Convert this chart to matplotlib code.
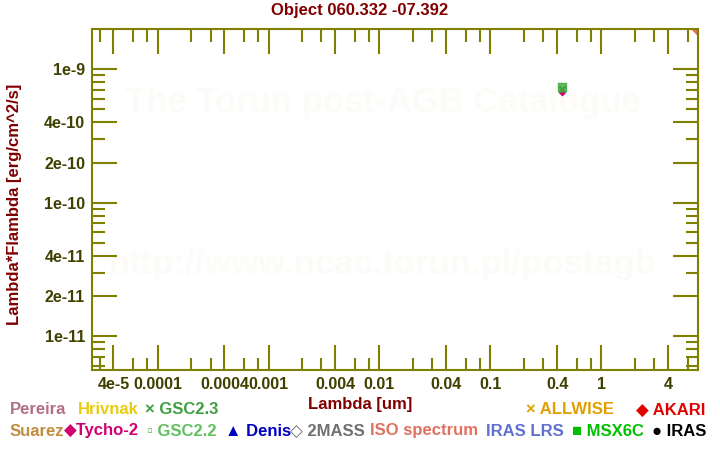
import matplotlib
matplotlib.use("Agg")
import numpy as np
from matplotlib import pyplot as plt
from matplotlib.ticker import FixedLocator, NullFormatter

plt.rcParams["font.family"] = ["Liberation Sans", "DejaVu Sans"]
plt.rcParams["font.weight"] = "bold"

# photometry points (um, erg/cm^2/s)
gsc22_wave = [0.44]
gsc22_flux = [7.3e-10]
gsc23_wave = [0.44]
gsc23_flux = [7.1e-10]
tycho_wave = [0.445]
tycho_flux = [6.8e-10]
iso_wave = [7.5]
iso_flux = [2.0e-9]

x_major = [4e-5, 1e-4, 4e-4, 1e-3, 4e-3, 1e-2, 4e-2, 0.1, 0.4, 1, 4]
x_labels = ["4e-5", "0.0001", "0.0004", "0.001", "0.004", "0.01", "0.04", "0.1", "0.4", "1", "4"]
y_major = [1e-9, 4e-10, 2e-10, 1e-10, 4e-11, 2e-11, 1e-11]
y_labels = ["1e-9", "4e-10", "2e-10", "1e-10", "4e-11", "2e-11", "1e-11"]

# legend rows: (label, colour, x start px)
legend_row1 = [("Pereira", "#b07088", 10), ("Hrivnak", "#e8cc10", 78),
               ("× GSC2.3", "#40a040", 145), ("× ALLWISE", "#e0a000", 526),
               ("◆ AKARI", "#e00000", 636)]
legend_row2 = [("Suarez", "#c08c40", 10), ("◆Tycho-2", "#d00070", 64),
               ("▫ GSC2.2", "#60c060", 147), ("▲ Denis", "#0000c0", 225),
               ("◇ 2MASS", "#707070", 290), ("ISO spectrum", "#e07060", 370),
               ("IRAS LRS", "#6070d0", 486), ("■ MSX6C", "#00c000", 572),
               ("● IRAS", "#000000", 652)]

olive = "#808000"
tick_text = "#404000"
dark_red = "#800000"

fig = plt.figure(figsize=(7.2, 4.5), dpi=100)
ax = fig.add_axes([92 / 720, 80 / 450, 606 / 720, 341 / 450])
ax.set_xscale("log")
ax.set_yscale("log")
ax.set_xlim(2.56e-5, 7.45)
ax.set_ylim(5.6e-12, 2.0e-9)

x_minor = []
for e in range(-5, 1):
    for m in [2, 3, 6, 8]:
        x_minor.append(m * 10.0 ** e)
y_minor = []
for e in range(-12, -8):
    for m in [3, 5, 6, 7, 8, 9]:
        y_minor.append(m * 10.0 ** e)

ax.xaxis.set_major_locator(FixedLocator(x_major))
ax.xaxis.set_minor_locator(FixedLocator(x_minor))
ax.yaxis.set_major_locator(FixedLocator(y_major))
ax.yaxis.set_minor_locator(FixedLocator(y_minor))
ax.set_xticklabels(x_labels)
ax.set_yticklabels(y_labels)
ax.xaxis.set_minor_formatter(NullFormatter())
ax.yaxis.set_minor_formatter(NullFormatter())

ax.tick_params(which="both", direction="in", top=True, right=True, color=olive, width=1.5)
ax.tick_params(which="major", length=18, labelsize=11.5, labelcolor=tick_text, pad=5)
ax.tick_params(which="minor", length=9)
for lab in ax.get_xticklabels() + ax.get_yticklabels():
    lab.set_fontweight("bold")
for sp in ax.spines.values():
    sp.set_color(olive)
    sp.set_linewidth(1.5)

ax.text(0.48, 0.785, "The Torun post-AGB Catalogue", transform=ax.transAxes,
        ha="center", va="center", fontsize=25, color="#fdfbf7", zorder=0)
ax.text(0.48, 0.31, "http://www.ncac.torun.pl/postagb", transform=ax.transAxes,
        ha="center", va="center", fontsize=25, color="#fdfbf7", zorder=0)

ax.scatter(gsc22_wave, gsc22_flux, marker="s", s=30, facecolor="#60c060",
           edgecolor="#50b050", zorder=3)
ax.scatter(gsc23_wave, gsc23_flux, marker="x", s=20, color="#40a040", zorder=4)
ax.scatter(tycho_wave, tycho_flux, marker="D", s=10, color="#d00070", zorder=2)
ax.scatter(iso_wave, iso_flux, marker="D", s=40, color="#e07060", zorder=2)

fig.text(360 / 720, 1 - 11 / 450, "Object 060.332 -07.392", ha="center", va="center",
         fontsize=12, color=dark_red, fontweight="bold")
fig.text(360 / 720, 1 - 404 / 450, "Lambda [um]", ha="center", va="center",
         fontsize=12, color=dark_red, fontweight="bold")
fig.text(15 / 720, 1 - 204 / 450, "Lambda*Flambda [erg/cm^2/s]", ha="center", va="center",
         rotation=90, fontsize=12, color=dark_red, fontweight="bold")

for label, colour, x0 in legend_row1:
    fig.text(x0 / 720, 1 - 410 / 450, label, ha="left", va="center",
             fontsize=12, color=colour, fontweight="bold")
for label, colour, x0 in legend_row2:
    fig.text(x0 / 720, 1 - 431 / 450, label, ha="left", va="center",
             fontsize=12, color=colour, fontweight="bold")

fig.savefig("out.png", dpi=100)
